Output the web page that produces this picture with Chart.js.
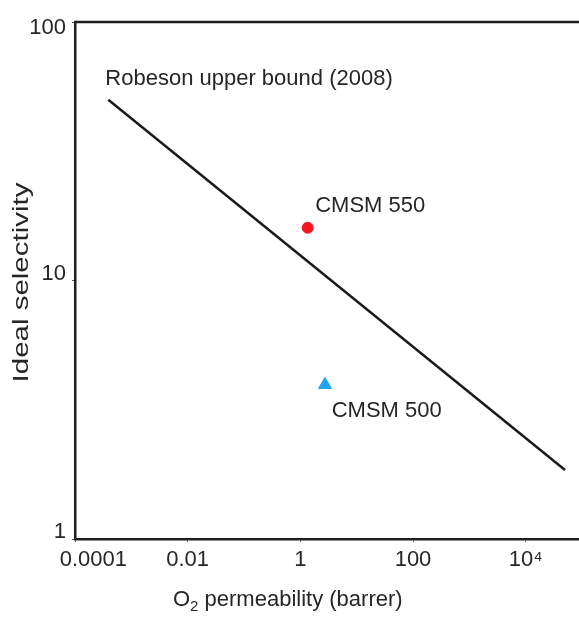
<!DOCTYPE html>
<html>
<head>
<meta charset="utf-8">
<script src="https://cdn.jsdelivr.net/npm/chart.js@4.4.1/dist/chart.umd.min.js"></script>
<style>
  html, body { margin: 0; padding: 0; background: #fff; overflow: hidden; }
  #wrap { width: 579px; height: 619px; overflow: hidden; }
  canvas { display: block; }
</style>
</head>
<body>
<div id="wrap"><canvas id="chart" width="582" height="619"></canvas></div>
<script>
// upper bound line (O2/N2)
const boundPerm = [3.9e-4, 5.0e4];
const boundSel = [50, 1.85];
const boundLabel = "Robeson upper bound (2008)";

// membranes
const sampleNames = ["CMSM 550", "CMSM 500"];
const samplePerm = [1.35, 2.74];
const sampleSel = [16.0, 3.95];

// axes
const xTicks = [1e-4, 1e-2, 1, 1e2, 1e4];
const xTickLabels = ["0.0001", "0.01", "1", "100", "10\u2074"];
const yTicks = [1, 10, 100];
const yTickLabels = ["1", "10", "100"];

const FONT = '"Liberation Sans", Arial, sans-serif';
const INK = "#262626";
const AXIS = "#1e1e1e";

const sampleStyle = [
  { shape: "circle", color: "#f5141e", r: 5.5, dx: 7.5, dy: -16 },
  { shape: "triangle", color: "#1ea6f0", r: 7.5, dx: 6.7, dy: 32 }
];

// ===============================
// TEXT: labels, axis titles, top frame
// ===============================
const notes = {
  id: "notes",
  afterDatasetsDraw(chart) {
    const { ctx, chartArea, scales: { x, y } } = chart;
    ctx.save();

    // top frame line
    ctx.strokeStyle = AXIS;
    ctx.lineWidth = 2.5;
    ctx.beginPath();
    ctx.moveTo(chartArea.left - 1, chartArea.top);
    ctx.lineTo(chartArea.right, chartArea.top);
    ctx.stroke();

    ctx.fillStyle = INK;
    ctx.font = "22px " + FONT;
    ctx.textBaseline = "alphabetic";
    ctx.textAlign = "left";

    ctx.fillText(boundLabel,
      x.getPixelForValue(boundPerm[0]) - 3,
      y.getPixelForValue(boundSel[0]) - 15);

    sampleNames.forEach((name, i) => {
      const s = sampleStyle[i];
      ctx.fillText(name,
        x.getPixelForValue(samplePerm[i]) + s.dx,
        y.getPixelForValue(sampleSel[i]) + s.dy);
    });

    // x title with subscript
    let tx = 173;
    const by = 606;
    ctx.fillText("O", tx, by);
    tx += ctx.measureText("O").width;
    ctx.font = "15px " + FONT;
    ctx.fillText("2", tx, by + 5);
    tx += ctx.measureText("2").width;
    ctx.font = "22px " + FONT;
    ctx.fillText(" permeability (barrer)", tx, by);

    // y title, drawn tall
    ctx.translate(28, 282.5);
    ctx.rotate(-Math.PI / 2);
    ctx.scale(1.34, 1);
    ctx.textAlign = "center";
    ctx.fillText("Ideal selectivity", 0, 0);

    ctx.restore();
  }
};

const canvas = document.getElementById("chart");

new Chart(canvas, {
  type: "scatter",
  data: {
    datasets: [
      {
        label: boundLabel,
        data: boundPerm.map((v, i) => ({ x: v, y: boundSel[i] })),
        showLine: true,
        borderColor: "#1a1a1a",
        borderWidth: 2.5,
        pointRadius: 0,
        fill: false
      },
      ...sampleNames.map((name, i) => ({
        label: name,
        data: [{ x: samplePerm[i], y: sampleSel[i] }],
        pointStyle: sampleStyle[i].shape,
        pointRadius: sampleStyle[i].r,
        backgroundColor: sampleStyle[i].color,
        borderColor: sampleStyle[i].color,
        borderWidth: 1
      }))
    ]
  },
  options: {
    responsive: false,
    animation: false,
    layout: { autoPadding: false, padding: { top: 22, left: 0, right: 0, bottom: 0 } },
    plugins: {
      legend: { display: false },
      tooltip: { enabled: false }
    },
    scales: {
      x: {
        type: "logarithmic",
        position: "bottom",
        min: 1e-4,
        max: 1e5,
        afterBuildTicks: s => { s.ticks = xTicks.map(v => ({ value: v })); },
        afterFit: s => {
          s.height = 80;
          // the frame runs off the right edge, no room kept for labels
          s.paddingLeft = 0;
          s.paddingRight = 0;
        },
        ticks: {
          autoSkip: false,
          maxRotation: 0,
          padding: 5,
          color: INK,
          font: { family: FONT, size: 22 },
          // first label pushed right, clear of the y labels
          callback: (v, i) => (i === 0 ? "      " : "") + xTickLabels[i]
        },
        grid: { drawOnChartArea: false, drawTicks: true, tickLength: 3, color: "#555" },
        border: { display: true, color: AXIS, width: 2.5 }
      },
      y: {
        type: "logarithmic",
        min: 1,
        max: 100,
        afterBuildTicks: s => { s.ticks = yTicks.map(v => ({ value: v })); },
        afterFit: s => {
          s.width = 75;
          s.paddingTop = 0;
          s.paddingBottom = 0;
        },
        ticks: {
          autoSkip: false,
          padding: 6,
          labelOffset: -7,
          color: INK,
          font: { family: FONT, size: 22 },
          // top label kept down inside the frame
          callback: (v, i) => (i === yTicks.length - 1 ? ["", yTickLabels[i]] : yTickLabels[i])
        },
        grid: { drawOnChartArea: false, drawTicks: true, tickLength: 3, color: "#555" },
        border: { display: true, color: AXIS, width: 2.5 }
      }
    }
  },
  plugins: [notes]
});
</script>
</body>
</html>
